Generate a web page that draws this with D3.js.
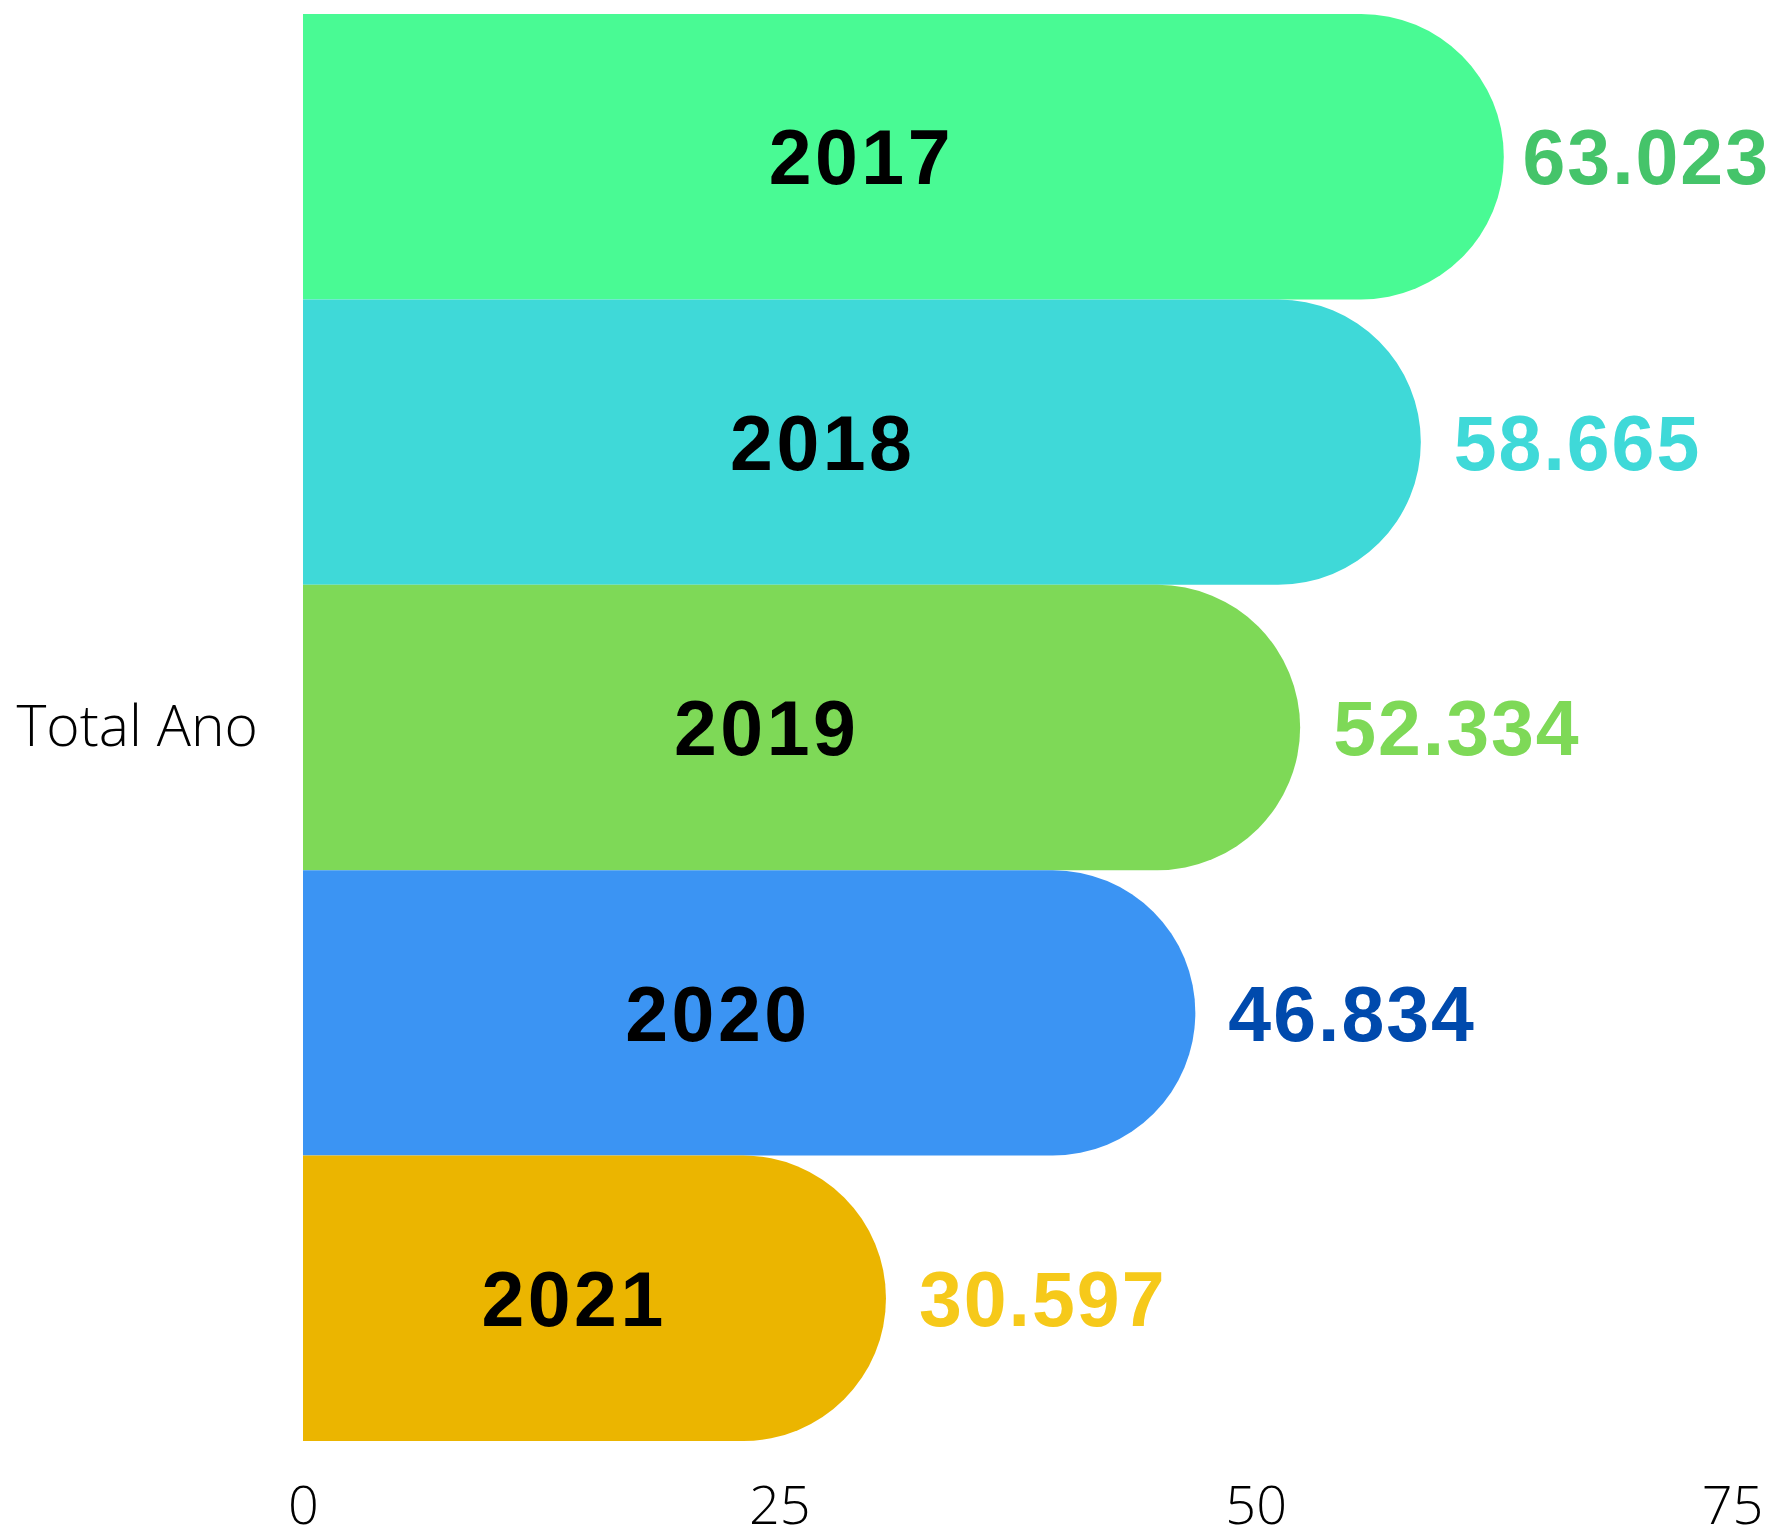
<!DOCTYPE html>
<html>
<head>
<meta charset="utf-8">
<script src="https://cdn.jsdelivr.net/npm/d3@7"></script>
<style>
  body { margin: 0; background: #fff; }
  svg { display: block; }
  .axis text { font-family: "Open Sans", sans-serif; font-weight: 300; fill: #000; }
  .year { font-family: "Liberation Sans", Arial, sans-serif; font-weight: bold; fill: #000; letter-spacing: 3.5px; }
  .val { font-family: "Liberation Sans", Arial, sans-serif; font-weight: bold; letter-spacing: 2px; }
</style>
</head>
<body>
<div id="chart"></div>
<script>
var years = ['2017', '2018', '2019', '2020', '2021'];
var totals = [63.023, 58.665, 52.334, 46.834, 30.597];
var barColors = ['#49fa94', '#3fd9d8', '#7ed957', '#3b94f3', '#ebb500'];
var labelColors = ['#45c46a', '#3fd9d8', '#7ed957', '#004aad', '#f6c91a'];
var xTicks = [0, 25, 50, 75];
var groupName = ['Total Ano'];

var width = 1774, height = 1530;
var margin = {top: 14, left: 303, right: 42, bottom: 89};

var svg = d3.select('#chart').append('svg')
    .attr('width', width)
    .attr('height', height);

var x = d3.scaleLinear()
    .domain([0, 75])
    .range([margin.left, width - margin.right]);

var y = d3.scaleBand()
    .domain(years)
    .range([margin.top, height - margin.bottom])
    .padding(0);

var yOuter = d3.scaleBand()
    .domain(groupName)
    .range([margin.top, height - margin.bottom]);

var data = years.map(function(d, i) {
    return {year: d, value: totals[i], bar: barColors[i], label: labelColors[i]};
});

// bar with a half-circle right end
function pill(d) {
    var r = y.bandwidth() / 2;
    var x0 = x(0), x1 = x(d.value), y0 = y(d.year);
    var p = d3.path();
    p.moveTo(x0, y0);
    p.lineTo(x1 - r, y0);
    p.arc(x1 - r, y0 + r, r, -Math.PI / 2, Math.PI / 2);
    p.lineTo(x0, y0 + 2 * r);
    p.closePath();
    return p.toString();
}

svg.selectAll('.bar')
    .data(data)
    .enter().append('path')
    .classed('bar', true)
    .attr('d', pill)
    .attr('fill', function(d) { return d.bar; });

svg.selectAll('.year')
    .data(data)
    .enter().append('text')
    .classed('year', true)
    .attr('x', function(d) { return x(d.value * 0.465); })
    .attr('y', function(d) { return y(d.year) + y.bandwidth() / 2; })
    .attr('dy', '0.36em')
    .attr('text-anchor', 'middle')
    .style('font-size', '77px')
    .text(function(d) { return d.year; });

svg.selectAll('.val')
    .data(data)
    .enter().append('text')
    .classed('val', true)
    .attr('y', function(d) { return y(d.year) + y.bandwidth() / 2; })
    .attr('dy', '0.36em')
    .style('font-size', '77px')
    .attr('fill', function(d) { return d.label; })
    .text(function(d) { return d3.format('.3f')(d.value); })
    .attr('x', function(d) {
        var w = this.getComputedTextLength();
        return Math.min(x(d.value) + 33, width - 4 - w);
    });

var xAxis = d3.axisBottom(x).tickValues(xTicks).tickSize(0).tickPadding(45);
svg.append('g').classed('axis', true)
    .attr('transform', 'translate(0,' + (height - margin.bottom) + ')')
    .call(xAxis)
    .call(function(g) { g.select('.domain').remove(); })
    .selectAll('text').style('font-size', '54px');

var yAxis = d3.axisLeft(yOuter).tickSize(0).tickPadding(45);
svg.append('g').classed('axis', true)
    .attr('transform', 'translate(' + margin.left + ',0)')
    .call(yAxis)
    .call(function(g) { g.select('.domain').remove(); })
    .selectAll('text').style('font-size', '57px');
</script>
</body>
</html>
